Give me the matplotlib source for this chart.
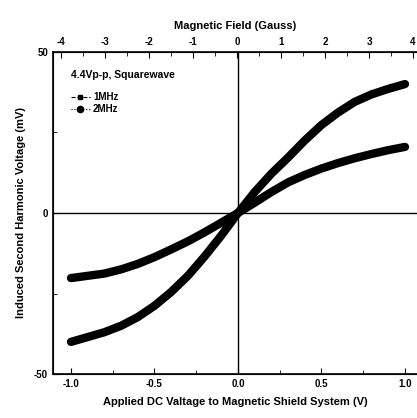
import matplotlib
matplotlib.use("Agg")
import matplotlib.pyplot as plt
from matplotlib.ticker import MultipleLocator

plt.rcParams["font.family"] = ["Liberation Sans", "DejaVu Sans"]
plt.rcParams["font.weight"] = "bold"
plt.rcParams["axes.unicode_minus"] = False

# applied DC voltage (V)
voltage = [-1.0, -0.9, -0.8, -0.7, -0.6, -0.5, -0.4, -0.3, -0.2, -0.1, 0.0,
           0.1, 0.2, 0.3, 0.4, 0.5, 0.6, 0.7, 0.8, 0.9, 1.0]
# induced second harmonic voltage (mV)
v_1mhz = [-40.0, -38.5, -37.0, -35.0, -32.3, -28.8, -24.5, -19.5, -13.5, -7.0, 0.0,
          6.5, 12.2, 17.2, 22.5, 27.3, 31.2, 34.5, 36.8, 38.5, 40.0]
v_2mhz = [-20.2, -19.5, -18.8, -17.5, -15.8, -13.7, -11.3, -8.8, -6.0, -3.0, 0.0,
          3.2, 6.5, 9.5, 11.8, 13.8, 15.5, 17.0, 18.3, 19.5, 20.5]

fig = plt.figure(figsize=(4.17, 4.18), dpi=100)
ax = fig.add_axes([0.127, 0.105, 0.873, 0.771])

# thick curves made of overlapping markers
ax.plot(voltage, v_1mhz, color="black", lw=6, solid_capstyle="round",
        solid_joinstyle="round", zorder=3)
ax.plot(voltage, v_2mhz, color="black", lw=6, solid_capstyle="round",
        solid_joinstyle="round", zorder=3)

# legend proxies
ax.plot([], [], color="black", ls="--", lw=0.8, marker="s", ms=3.5, label="1MHz")
ax.plot([], [], color="black", ls=":", lw=0.8, marker="o", ms=4.5, label="2MHz")

ax.axhline(0, color="black", lw=1.0, zorder=2)
ax.axvline(0, color="black", lw=1.0, zorder=2)

ax.set_xlim(-1.108, 1.072)
ax.set_ylim(-50, 50)
ax.spines["right"].set_visible(False)
for s in ["left", "bottom", "top"]:
    ax.spines[s].set_linewidth(1.2)

ax.set_xticks([-1.0, -0.5, 0.0, 0.5, 1.0])
ax.set_xticklabels(["-1.0", "-0.5", "0.0", "0.5", "1.0"])
ax.xaxis.set_minor_locator(MultipleLocator(0.25))
ax.set_yticks([-50, 0, 50])
ax.yaxis.set_minor_locator(MultipleLocator(25))
ax.tick_params(axis="both", which="both", direction="in", labelsize=7, right=False, top=False)
ax.tick_params(which="major", length=4)
ax.tick_params(which="minor", length=3)
for lab in ax.get_xticklabels() + ax.get_yticklabels():
    lab.set_fontweight("bold")

ax.set_xlabel("Applied DC Valtage to Magnetic Shield System (V)", fontsize=8, fontweight="bold", labelpad=6)
ax.set_ylabel("Induced Second Harmonic Voltage (mV)", fontsize=8, fontweight="bold", labelpad=6)

top = ax.twiny()
top.set_xlim(-4.18, 4.09)
top.set_xticks(range(-4, 5))
top.xaxis.set_minor_locator(MultipleLocator(0.5))
top.tick_params(axis="x", which="both", direction="in", labelsize=7)
top.tick_params(which="major", length=4)
top.tick_params(which="minor", length=3)
top.spines["right"].set_visible(False)
for lab in top.get_xticklabels():
    lab.set_fontweight("bold")
top.set_xlabel("Magnetic Field (Gauss)", fontsize=8, fontweight="bold", labelpad=6)

ax.text(0.05, 0.929, "4.4Vp-p, Squarewave", transform=ax.transAxes,
        fontsize=7.5, fontweight="bold", va="center")
leg = ax.legend(loc="upper left", bbox_to_anchor=(0.03, 0.895), frameon=False,
                fontsize=7, handlelength=2.0, handletextpad=0.3, labelspacing=0.15,
                borderpad=0.2)
for t in leg.get_texts():
    t.set_fontweight("bold")

fig.savefig("out.png", dpi=100)
